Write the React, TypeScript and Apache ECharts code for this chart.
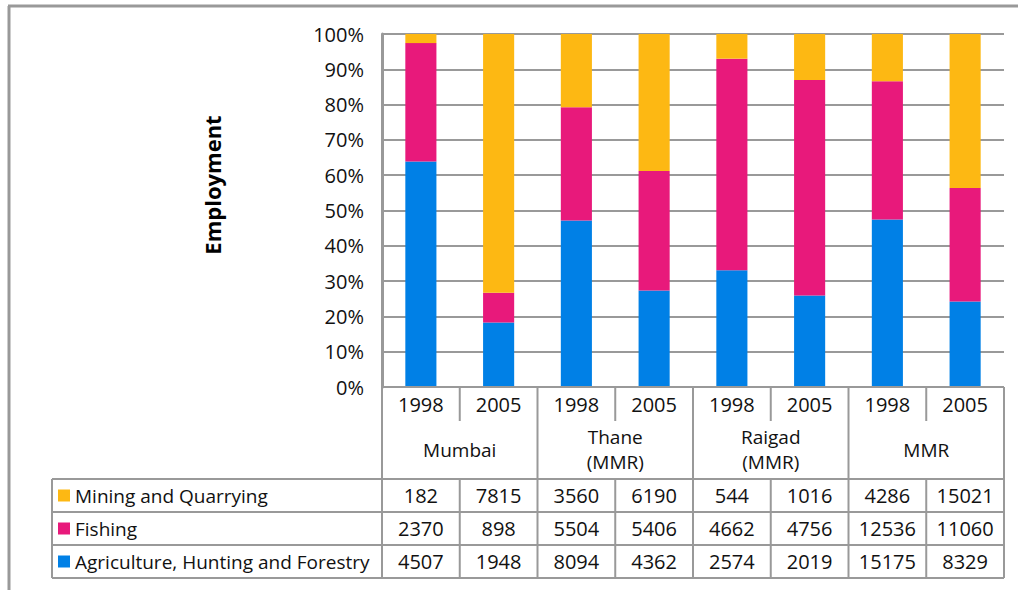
import React, { useEffect, useRef } from "react";
import * as echarts from "echarts";

const years = ["1998", "2005", "1998", "2005", "1998", "2005", "1998", "2005"];
const cities = [["Mumbai"], ["Thane", "(MMR)"], ["Raigad", "(MMR)"], ["MMR"]];
const mining = [182, 7815, 3560, 6190, 544, 1016, 4286, 15021];
const fishing = [2370, 898, 5504, 5406, 4662, 4756, 12536, 11060];
const agriculture = [4507, 1948, 8094, 4362, 2574, 2019, 15175, 8329];
const yTicks = [0, 10, 20, 30, 40, 50, 60, 70, 80, 90, 100];

const seriesDefs = [
  { name: "Agriculture, Hunting and Forestry", values: agriculture, color: "#0080E6" },
  { name: "Fishing", values: fishing, color: "#E8197B" },
  { name: "Mining and Quarrying", values: mining, color: "#FDB813" },
];
const tableRows = [seriesDefs[2], seriesDefs[1], seriesDefs[0]];

const FONT = "'Open Sans', Lato, sans-serif";
const GRID_L = 382;
const GRID_T = 34;
const GRID_W = 622;
const GRID_B = 387;
const LINE = "#999999";

export default function App() {
  const ref = useRef<HTMLDivElement>(null);
  useEffect(() => {
    document.body.style.margin = "0";
    const chart = echarts.init(ref.current!, null, { renderer: "svg" });
    const totals = years.map((_, i) => mining[i] + fishing[i] + agriculture[i]);
    const colW = GRID_W / years.length;
    const right = GRID_L + GRID_W;
    const graphics: any[] = [];
    const ln = (x1: number, y1: number, x2: number, y2: number, w = 2) =>
      graphics.push({
        type: "line",
        shape: { x1, y1, x2, y2 },
        style: { stroke: LINE, lineWidth: w },
        z: 10,
      });
    const txt = (x: number, y: number, t: string, align = "center", size = 19) =>
      graphics.push({
        type: "text",
        x,
        y,
        style: {
          text: t,
          fontFamily: FONT,
          fontSize: size,
          fill: "#111",
          align,
          verticalAlign: "middle",
        },
        z: 11,
      });
    // frame
    ln(8, 6, 1018, 6, 3);
    ln(9, 6, 9, 590, 3);
    // header
    const rowTops = [479, 512, 545, 578];
    ln(GRID_L, GRID_B, right, GRID_B);
    ln(GRID_L, GRID_B, GRID_L, rowTops[3]);
    ln(right, GRID_B, right, rowTops[3]);
    for (let c = 1; c < years.length; c++) {
      const x = GRID_L + c * colW;
      if (c % 2 === 0) ln(x, GRID_B, x, rowTops[3]);
      else {
        ln(x, GRID_B, x, 421);
        ln(x, rowTops[0], x, rowTops[3]);
      }
    }
    rowTops.forEach((y) => ln(52, y, right, y));
    ln(52, rowTops[0], 52, rowTops[3]);
    years.forEach((y, i) => txt(GRID_L + (i + 0.5) * colW, 404, y, "center", 20));
    cities.forEach((lines, i) => {
      const cx = GRID_L + (i + 0.5) * 2 * colW;
      if (lines.length === 1) txt(cx, 450, lines[0]);
      else {
        txt(cx, 437, lines[0]);
        txt(cx, 462, lines[1]);
      }
    });
    tableRows.forEach((s, r) => {
      const cy = (rowTops[r] + rowTops[r + 1]) / 2;
      graphics.push({
        type: "rect",
        shape: { x: 58, y: cy - 6, width: 12, height: 12 },
        style: { fill: s.color },
        z: 11,
      });
      txt(75, cy, s.name, "left", 19);
      s.values.forEach((v, i) => txt(GRID_L + (i + 0.5) * colW, cy, String(v), "center", 20));
    });
    graphics.push({
      type: "text",
      x: 212,
      y: 185,
      rotation: Math.PI / 2,
      style: {
        text: "Employment",
        fontFamily: FONT,
        fontSize: 22,
        fontWeight: "bold",
        fill: "#000",
        align: "center",
        verticalAlign: "middle",
      },
      z: 11,
    });

    chart.setOption({
      animation: false,
      grid: { left: GRID_L, top: GRID_T, width: GRID_W, height: GRID_B - GRID_T },
      xAxis: {
        type: "category",
        data: years.map((y, i) => y + "-" + i),
        axisLine: { show: false },
        axisTick: { show: false },
        axisLabel: { show: false },
      },
      yAxis: {
        type: "value",
        min: 0,
        max: 100,
        interval: 10,
        axisLine: { show: true, lineStyle: { color: LINE, width: 3 } },
        axisTick: { show: false },
        axisLabel: {
          formatter: (v: number) => (yTicks.includes(v) ? v + "%" : ""),
          fontFamily: FONT,
          fontSize: 20,
          color: "#111",
          margin: 18,
        },
        splitLine: { show: true, lineStyle: { color: LINE, width: 2 } },
      },
      series: seriesDefs.map((s) => ({
        name: s.name,
        type: "bar",
        stack: "all",
        barWidth: "40%",
        itemStyle: { color: s.color },
        data: s.values.map((v, i) => (v / totals[i]) * 100),
      })),
      graphic: graphics,
    });
    return () => chart.dispose();
  }, []);
  return <div ref={ref} style={{ width: 1018, height: 590 }} />;
}
